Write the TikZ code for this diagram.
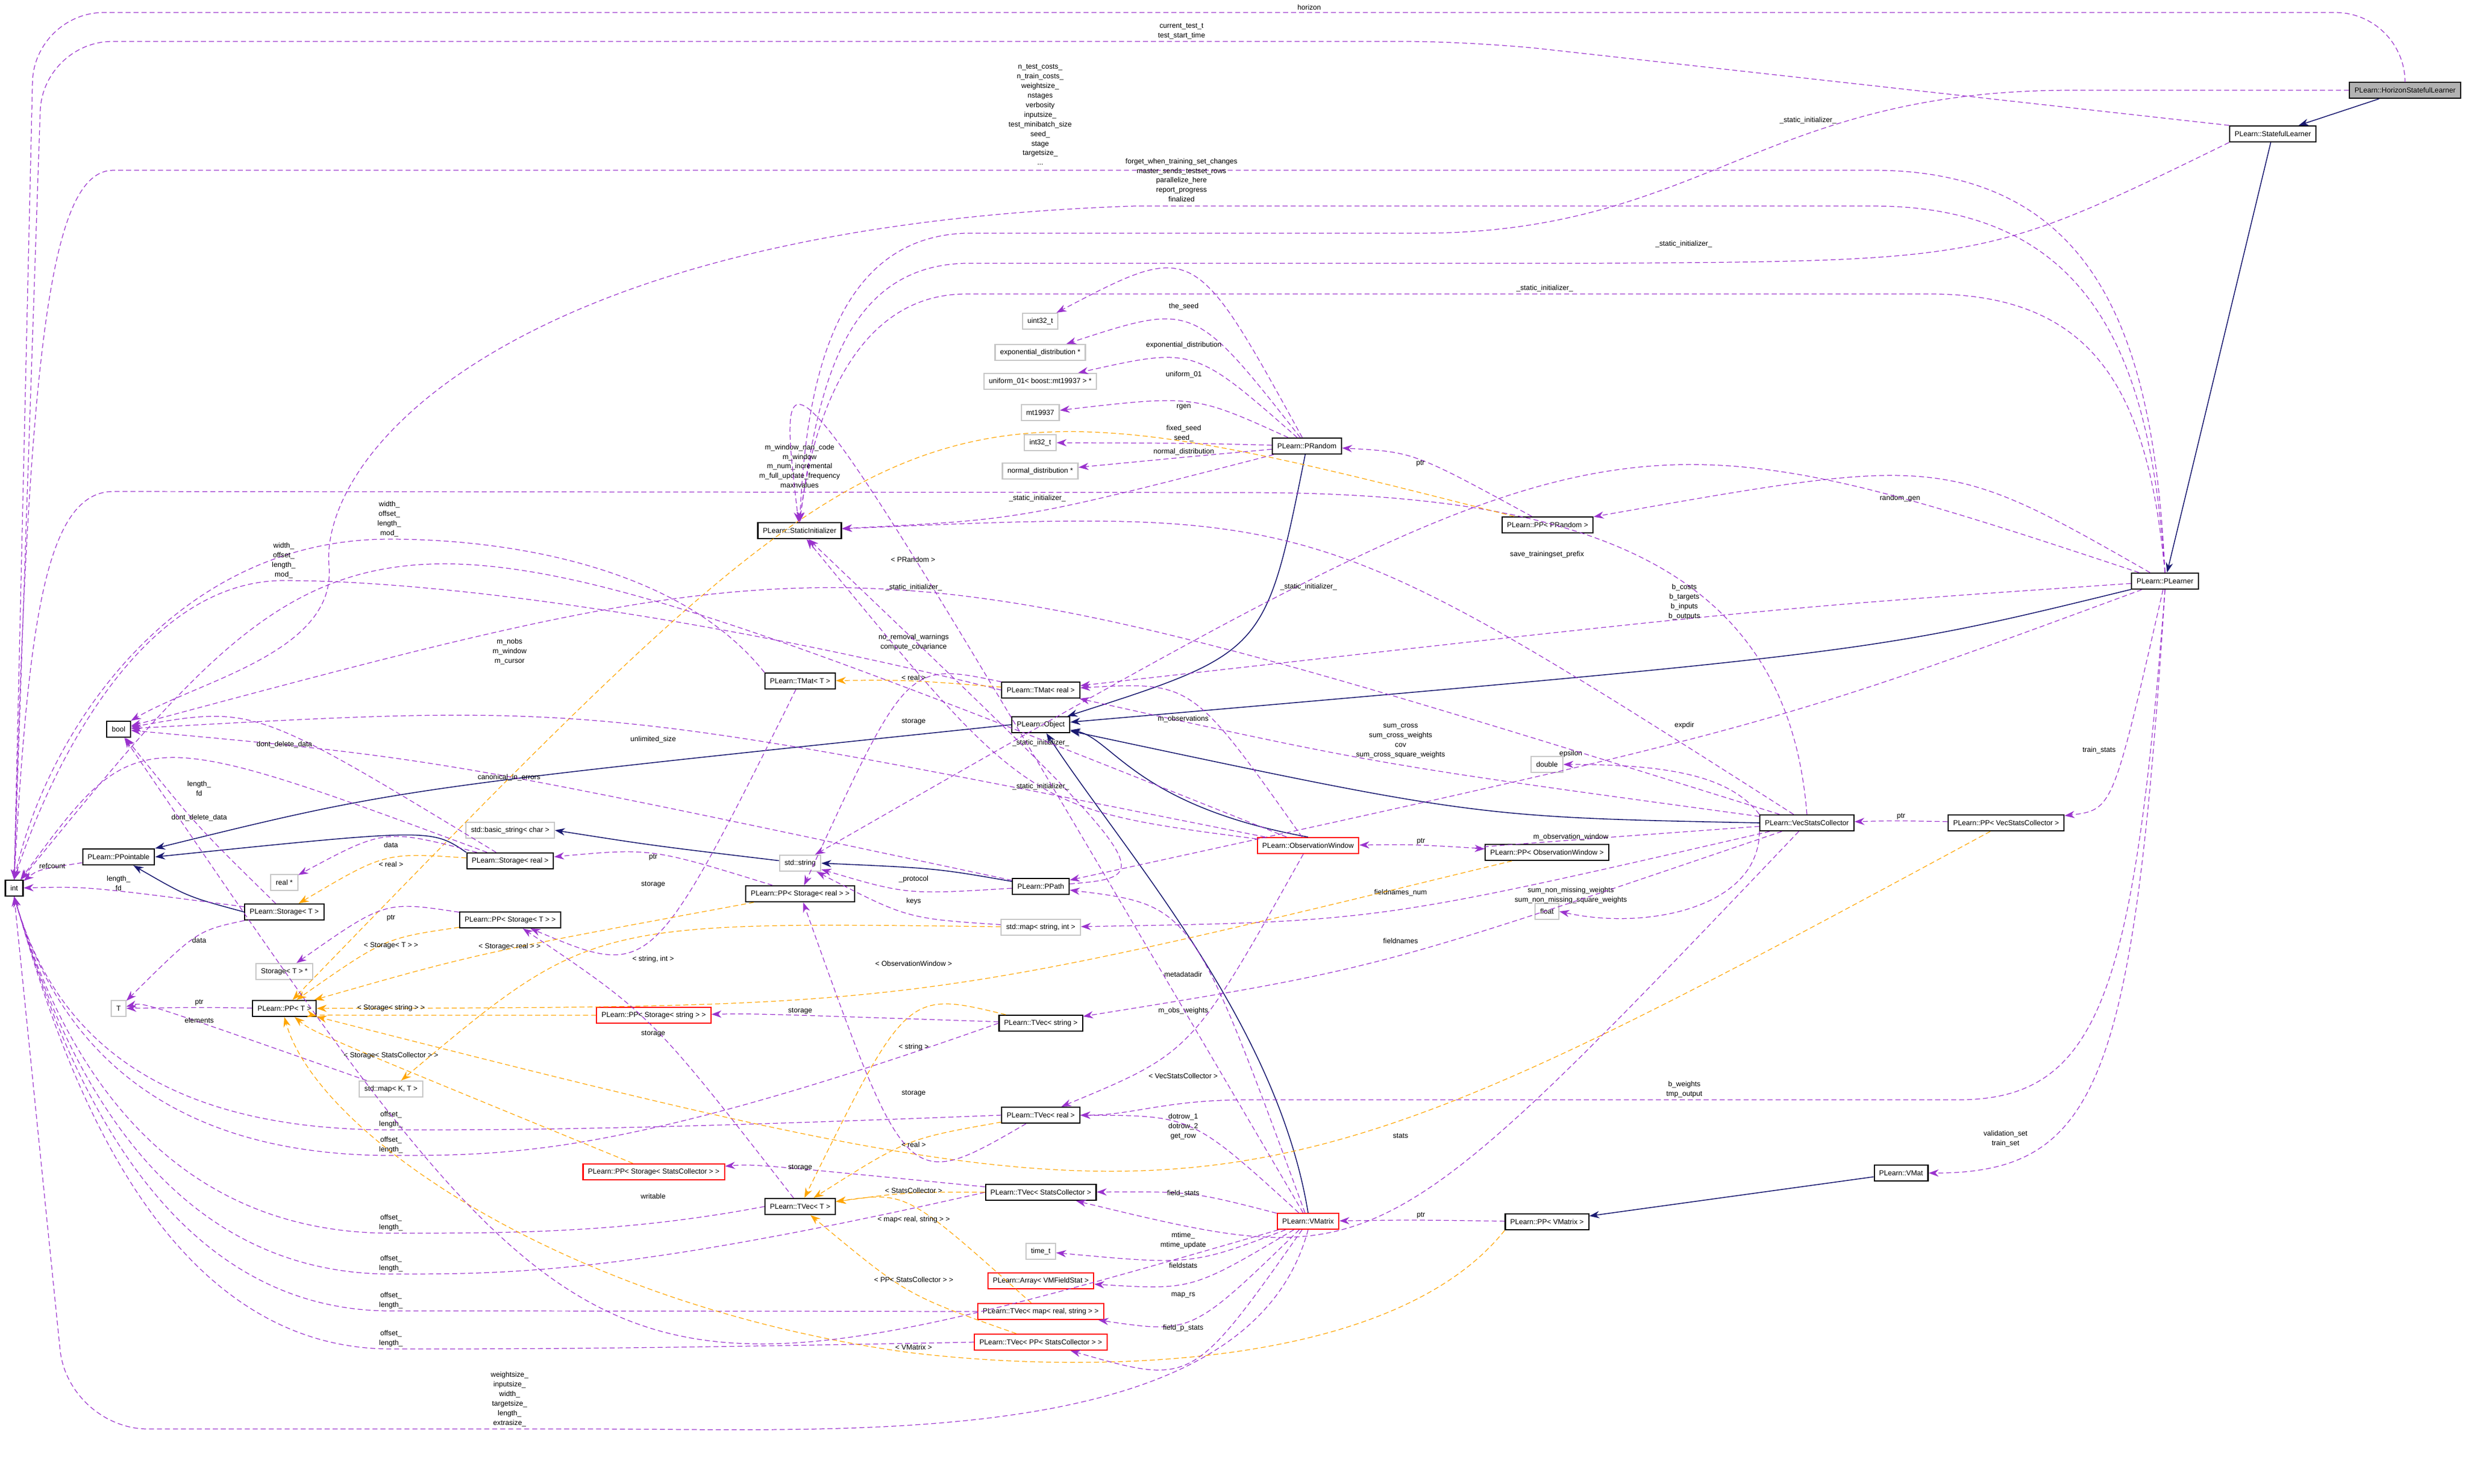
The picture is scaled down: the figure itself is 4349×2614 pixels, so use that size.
\documentclass[tikz,border=0pt]{standalone}
\usepackage{fontspec}
\setmainfont{Liberation Sans}
\usetikzlibrary{calc,arrows.meta}
\definecolor{usecol}{HTML}{9A32CD}
\definecolor{tmplcol}{HTML}{FFA500}
\definecolor{inhcol}{HTML}{191970}
\newcommand{\gfont}{\fontsize{3.6}{4.8}\selectfont}
\tikzset{
  cls/.style={draw=black,line width=0.6pt,minimum height=0.28cm,inner xsep=2.5pt,inner ysep=0pt,font=\gfont},
  ext/.style={cls,draw=gray!45},
  trunc/.style={cls,draw=red},
  cur/.style={cls,fill=gray!60},
  uses/.style={draw=usecol,dash pattern=on 2.5pt off 1.5pt,line width=0.35pt,-{Stealth[length=5pt,width=3.6pt]}},
  tmpl/.style={uses,draw=tmplcol},
  inh/.style={draw=inhcol,line width=0.45pt,-{Stealth[length=5pt,width=3.6pt]}},
  lbl/.style={font=\gfont,align=center,inner sep=1pt,anchor=south}
}
% edge through the label point (quadratic curve)
\newcommand{\rel}[5][uses]{%
  \draw[#1] (#2) .. controls ($2*(#4)-0.5*(#2)-0.5*(#3)$) .. (#3);
  \node[lbl] at (#4) {#5};}
% offset_/length_ edges down to int
\newcommand{\relint}[2]{%
  \draw[uses] (#1.west) .. controls (1100,#2) and (900,#2) .. (689,#2) .. controls (250,#2) and (90,1800) .. (int.south);
  \node[lbl] at (689,#2) {offset\_\\length\_};}

\begin{document}
\begin{tikzpicture}[x=0.01cm,y=-0.01cm]
\useasboundingbox (0,0) rectangle (4349,2614);

% classes
\node[cur]   (hsl)   at (4238,159)  {PLearn::HorizonStatefulLearner};
\node[cls]   (sl)    at (4005,236)  {PLearn::StatefulLearner};
\node[cls]   (lrn)   at (3815,1024) {PLearn::PLearner};
\node[cls]   (obj)   at (1834,1277) {PLearn::Object};
\node[cls]   (pp)    at (209,1510)  {PLearn::PPointable};
\node[cls]   (int)   at (25,1565)   {int};
\node[cls]   (bool)  at (209,1285)  {bool};
\node[cls]   (si)    at (1409,935)  {PLearn::StaticInitializer};
\node[cls]   (prnd)  at (2303,786)  {PLearn::PRandom};
\node[cls]   (pprnd) at (2727,925)  {PLearn::PP< PRandom >};
\node[ext]   (u32)   at (1833,566)  {uint32\_t};
\node[ext]   (expd)  at (1833,621)  {exponential\_distribution *};
\node[ext]   (uni)   at (1833,672)  {uniform\_01< boost::mt19937 > *};
\node[ext]   (mt)    at (1833,727)  {mt19937};
\node[ext]   (i32)   at (1833,780)  {int32\_t};
\node[ext]   (nd)    at (1833,830)  {normal\_distribution *};
\node[cls]   (tmt)   at (1410,1200) {PLearn::TMat< T >};
\node[cls]   (tmr)   at (1834,1216) {PLearn::TMat< real >};
\node[cls]   (vsc)   at (3184,1450) {PLearn::VecStatsCollector};
\node[cls]   (ppvsc) at (3535,1450) {PLearn::PP< VecStatsCollector >};
\node[ext]   (dbl)   at (2726,1347) {double};
\node[ext]   (flt)   at (2726,1606) {float};
\node[cls]   (ppow)  at (2726,1502) {PLearn::PP< ObservationWindow >};
\node[trunc] (ow)    at (2305,1490) {PLearn::ObservationWindow};
\node[ext]   (bstr)  at (899,1463)  {std::basic\_string< char >};
\node[ext]   (str)   at (1410,1521) {std::string};
\node[cls]   (stor)  at (899,1517)  {PLearn::Storage< real >};
\node[ext]   (realp) at (501,1555)  {real *};
\node[cls]   (stt)   at (501,1607)  {PLearn::Storage< T >};
\node[cls]   (ppst)  at (899,1621)  {PLearn::PP< Storage< T > >};
\node[cls]   (ppsr)  at (1410,1575) {PLearn::PP< Storage< real > >};
\node[cls]   (ppath) at (1834,1562) {PLearn::PPath};
\node[ext]   (msi)   at (1834,1634) {std::map< string, int >};
\node[ext]   (stp)   at (501,1712)  {Storage< T > *};
\node[ext]   (T)     at (209,1777)  {T};
\node[cls]   (ppt)   at (501,1777)  {PLearn::PP< T >};
\node[ext]   (mkt)   at (689,1919)  {std::map< K, T >};
\node[trunc] (ppss)  at (1152,1789) {PLearn::PP< Storage< string > >};
\node[cls]   (tvs)   at (1834,1803) {PLearn::TVec< string >};
\node[cls]   (tvr)   at (1834,1965) {PLearn::TVec< real >};
\node[trunc] (ppssc) at (1152,2065) {PLearn::PP< Storage< StatsCollector > >};
\node[cls]   (tvsc)  at (1834,2101) {PLearn::TVec< StatsCollector >};
\node[cls]   (tvt)   at (1410,2126) {PLearn::TVec< T >};
\node[trunc] (vm)    at (2305,2152) {PLearn::VMatrix};
\node[cls]   (ppvm)  at (2726,2153) {PLearn::PP< VMatrix >};
\node[cls]   (vmat)  at (3350,2067) {PLearn::VMat};
\node[ext]   (tt)    at (1834,2205) {time\_t};
\node[trunc] (arr)   at (1834,2257) {PLearn::Array< VMFieldStat >};
\node[trunc] (tvm)   at (1834,2311) {PLearn::TVec< map< real, string > >};
\node[trunc] (tvp)   at (1834,2365) {PLearn::TVec< PP< StatsCollector > >};

% inheritance
\draw[inh] (hsl) -- (sl);
\draw[inh] (sl) -- (lrn);
\draw[inh] (lrn) .. controls (3300,1150) .. (obj);
\draw[inh] (prnd) .. controls (2230,1150) .. (obj);
\draw[inh] (vsc.west) .. controls (2600,1440) .. (obj);
\draw[inh] (ow.north) .. controls (2000,1420) and (1960,1300) .. (obj);
\draw[inh] (vm.north) .. controls (2250,1800) and (1980,1500) .. (obj);
\draw[inh] (obj.west) .. controls (700,1390) .. (pp.north east);
\draw[inh] (stor.north west) .. controls (760,1460) .. (pp.east);
\draw[inh] (stt.west) .. controls (330,1580) .. (pp);
\draw[inh] (str) .. controls (1150,1490) .. (bstr.east);
\draw[inh] (ppath) .. controls (1650,1530) .. (str.east);
\draw[inh] (vmat) -- (ppvm);

% long members
\draw[uses,rounded corners=35pt] (hsl.north) |- (60,22) -- (int.north);
\node[lbl] at (2307,22) {horizon};
\draw[uses,rounded corners=35pt] (sl.north west) -- (2600,73) -- (75,73) -- (int.north);
\node[lbl] at (2082,73) {current\_test\_t\\test\_start\_time};
\draw[uses] (lrn.north) .. controls (3795,600) and (3700,300) .. (3300,300) -- (200,300) .. controls (90,300) and (50,600) .. (int.north);
\node[lbl] at (1833,295) {n\_test\_costs\_\\n\_train\_costs\_\\weightsize\_\\nstages\\verbosity\\inputsize\_\\test\_minibatch\_size\\seed\_\\stage\\targetsize\_\\...};
\draw[uses] (lrn.north) .. controls (3790,650) and (3700,363) .. (3300,363) -- (2000,363) .. controls (900,400) and (560,800) .. (580,1000) .. controls (590,1150) and (350,1200) .. (bool.north east);
\node[lbl] at (2082,360) {forget\_when\_training\_set\_changes\\master\_sends\_testset\_rows\\parallelize\_here\\report\_progress\\finalized};
\draw[uses] (hsl.west) -- (3650,159) .. controls (3100,159) and (3000,411) .. (2500,411) -- (1700,411) .. controls (1460,420) and (1420,700) .. (si.north);
\node[lbl] at (3186,222) {\_static\_initializer\_};
\draw[uses] (sl.south west) .. controls (3500,460) .. (2800,464) -- (1700,464) .. controls (1480,470) and (1440,700) .. (si.north);
\node[lbl] at (2967,440) {\_static\_initializer\_};
\draw[uses] (lrn.north) .. controls (3785,700) and (3700,518) .. (3400,518) -- (1700,518) .. controls (1500,520) and (1430,750) .. (si.north);
\node[lbl] at (2722,518) {\_static\_initializer\_};
\draw[uses] (vsc.north) .. controls (3150,1000) and (2800,868) .. (2200,868) -- (200,866) .. controls (80,866) and (50,1100) .. (int.north);
\node[lbl] at (1409,864) {m\_window\_nan\_code\\m\_window\\m\_num\_incremental\\m\_full\_update\_frequency\\maxnvalues};
\draw[uses] (tmt.north west) .. controls (1200,1000) and (900,950) .. (686,950) .. controls (300,950) and (80,1300) .. (int.north);
\node[lbl] at (686,950) {width\_\\offset\_\\length\_\\mod\_};
\draw[uses] (tmr.west) .. controls (1300,1100) and (800,1023) .. (500,1023) .. controls (250,1023) and (90,1350) .. (int.north);
\node[lbl] at (500,1023) {width\_\\offset\_\\length\_\\mod\_};
\draw[uses,rounded corners=40pt] (vm.south) .. controls (2200,2560) and (1500,2518) .. (900,2518) -- (120,2518) -- (int.south);
\node[lbl] at (898,2518) {weightsize\_\\inputsize\_\\width\_\\targetsize\_\\length\_\\extrasize\_};
\draw[uses] (lrn.south) .. controls (3760,1900) and (3700,2067) .. (vmat.east);
\node[lbl] at (3534,2025) {validation\_set\\train\_set};
\draw[uses] (lrn.south) .. controls (3760,1750) and (3700,1938) .. (3450,1938) -- (2200,1938) .. controls (2050,1938) and (2000,1965) .. (tvr.east);
\node[lbl] at (2968,1938) {b\_weights\\tmp\_output};
\relint{tvr}{1991}
\relint{tvs}{2036}
\relint{tvt}{2173}
\relint{tvsc}{2245}
\relint{tvm}{2310}
\relint{tvp}{2377}

% PRandom
\rel{prnd}{u32}{2086,550}{the\_seed}
\rel{prnd}{expd}{2086,618}{exponential\_distribution}
\rel{prnd}{uni}{2086,670}{uniform\_01}
\rel{prnd}{mt}{2086,726}{rgen}
\rel{prnd}{i32}{2086,782}{fixed\_seed\\seed\_}
\rel{prnd}{nd}{2086,806}{normal\_distribution}
\rel{prnd}{si}{1828,888}{\_static\_initializer\_}
\rel{pprnd}{prnd}{2503,826}{ptr}
\rel{lrn}{pprnd}{3348,888}{random\_gen}
\rel[tmpl]{pprnd}{ppt}{1609,995}{< PRandom >}

% PLearner members
\rel{lrn}{str}{2726,987}{save\_trainingset\_prefix}
\rel{lrn}{tmr}{2968,1096}{b\_costs\\b\_targets\\b\_inputs\\b\_outputs}
\rel{lrn}{ppath}{2968,1288}{expdir}
\rel{lrn}{ppvsc}{3699,1332}{train\_stats}

% VecStatsCollector members
\rel{vsc}{si}{2306,1044}{\_static\_initializer\_}
\rel{vsc}{tmr}{2468,1340}{sum\_cross\\sum\_cross\_weights\\cov\\sum\_cross\_square\_weights}
\draw[uses] (vsc.north west) .. controls (3050,1370) and (2950,1347) .. (dbl.east);
\node[lbl] at (2768,1338) {epsilon};
\rel{vsc}{ppow}{2768,1485}{m\_observation\_window}
\draw[uses] (vsc.south west) .. controls (3100,1600) and (2900,1640) .. (flt.east);
\node[lbl] at (2768,1596) {sum\_non\_missing\_weights\\sum\_non\_missing\_square\_weights};
\rel{vsc}{msi}{2468,1583}{fieldnames\_num}
\rel{vsc}{tvs}{2468,1667}{fieldnames}
\rel{vsc}{tvsc}{2468,2010}{stats}
\rel{vsc}{bool}{1610,1150}{no\_removal\_warnings\\compute\_covariance}
\rel{ppvsc}{vsc}{3350,1448}{ptr}
\rel[tmpl]{ppvsc}{ppt}{2085,1905}{< VecStatsCollector >}

% ObservationWindow members
\rel{ppow}{ow}{2504,1492}{ptr}
\rel[tmpl]{ppow}{ppt}{1610,1707}{< ObservationWindow >}
\rel{ow}{si}{1834,1319}{\_static\_initializer\_}
\rel{ow}{tmr}{2085,1277}{m\_observations}
\rel{ow}{int}{898,1175}{m\_nobs\\m\_window\\m\_cursor}
\rel{ow}{tvr}{2085,1791}{m\_obs\_weights}
\rel{ow}{bool}{1151,1313}{unlimited\_size}

% PPath, maps, matrices
\rel{ppath}{str}{1610,1559}{\_protocol}
\rel{ppath}{bool}{897,1380}{canonical\_in\_errors}
\rel{ppath}{si}{1834,1396}{\_static\_initializer\_}
\rel{msi}{str}{1610,1598}{keys}
\rel[tmpl]{msi}{mkt}{1151,1700}{< string, int >}
\rel[tmpl]{tmr}{tmt}{1610,1203}{< real >}
\rel{tmr}{ppsr}{1610,1281}{storage}
\rel{tmt}{ppst}{1151,1568}{storage}

% storages
\rel[tmpl]{stor}{stt}{689,1532}{< real >}
\rel{stor}{realp}{689,1498}{data}
\rel{stor}{bool}{501,1322}{dont\_delete\_data}
\rel{stor}{int}{351,1407}{length\_\\fd}
\rel{stt}{bool}{351,1451}{dont\_delete\_data}
\rel{stt}{int}{209,1574}{length\_\\fd}
\rel{stt}{T}{351,1666}{data}
\rel{pp}{int}{92,1535}{refcount}
\rel{ppst}{stp}{689,1627}{ptr}
\rel[tmpl]{ppst}{ppt}{689,1676}{< Storage< T > >}
\rel{ppsr}{stor}{1151,1520}{ptr}
\rel[tmpl]{ppsr}{ppt}{898,1678}{< Storage< real > >}
\rel{ppt}{T}{351,1776}{ptr}
\rel{mkt}{T}{351,1807}{elements}
\rel[tmpl]{ppss}{ppt}{689,1786}{< Storage< string > >}
\rel[tmpl]{ppssc}{ppt}{689,1870}{< Storage< StatsCollector > >}

% vectors
\rel{tvs}{ppss}{1410,1791}{storage}
\rel[tmpl]{tvs}{tvt}{1610,1855}{< string >}
\rel{tvr}{ppsr}{1610,1936}{storage}
\rel[tmpl]{tvr}{tvt}{1610,2026}{< real >}
\rel{tvsc}{ppssc}{1410,2067}{storage}
\rel[tmpl]{tvsc}{tvt}{1610,2107}{< StatsCollector >}
\rel[tmpl]{tvm}{tvt}{1610,2159}{< map< real, string > >}
\rel[tmpl]{tvp}{tvt}{1610,2264}{< PP< StatsCollector > >}
\rel{tvt}{ppst}{1151,1831}{storage}

% VMatrix members
\draw[tmpl] (ppvm.south west) .. controls (2450,2420) and (1900,2420) .. (1600,2383) .. controls (1000,2300) and (560,2000) .. (ppt.south);
\node[lbl] at (1610,2383) {< VMatrix >};
\rel{ppvm}{vm}{2504,2151}{ptr}
\rel{vm}{tvr}{2085,2012}{dotrow\_1\\dotrow\_2\\get\_row}
\rel{vm}{tvsc}{2085,2113}{field\_stats}
\rel{vm}{tt}{2085,2204}{mtime\_\\mtime\_update}
\rel{vm}{arr}{2085,2239}{fieldstats}
\rel{vm}{tvm}{2085,2291}{map\_rs}
\rel{vm}{tvp}{2085,2350}{field\_p\_stats}
\rel{vm}{ppath}{2085,1726}{metadatadir}
\rel{vm}{bool}{1151,2117}{writable}
\rel{vm}{si}{1610,1045}{\_static\_initializer\_}
\end{tikzpicture}
\end{document}
